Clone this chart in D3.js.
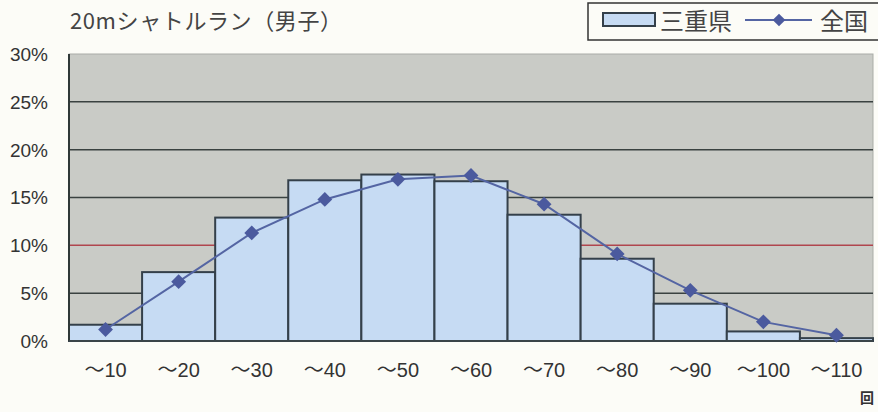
<!DOCTYPE html>
<html><head><meta charset="utf-8">
<script src="https://cdn.jsdelivr.net/npm/d3@7/dist/d3.min.js"></script>
<style>
html,body{margin:0;padding:0;background:#fcfcf7;}
svg{display:block;}
text{font-family:"Noto Sans CJK JP","Liberation Sans",Arial,sans-serif;}
</style></head>
<body>
<script>
const categories = ["～10","～20","～30","～40","～50","～60","～70","～80","～90","～100","～110"];
const mie = [1.7, 7.2, 12.9, 16.8, 17.4, 16.7, 13.2, 8.6, 3.9, 1.0, 0.3];
const national = [1.2, 6.2, 11.3, 14.8, 16.9, 17.3, 14.3, 9.1, 5.3, 2.0, 0.6];
const yTicks = [0, 5, 10, 15, 20, 25, 30];
const title = "20mシャトルラン（男子）";
const seriesNames = ["三重県", "全国"];
const unitLabel = "回";

const W = 878, H = 412;
const m = {left: 69, right: 5, top: 54, bottom: 71};
const svg = d3.select("body").append("svg").attr("width", W).attr("height", H);

const x = d3.scaleBand().domain(categories).range([m.left, W - m.right]).padding(0);
const y = d3.scaleLinear().domain([0, 30]).range([H - m.bottom, m.top]);

// plot background
svg.append("rect").attr("x", m.left).attr("y", m.top)
  .attr("width", W - m.right - m.left).attr("height", H - m.bottom - m.top)
  .attr("fill", "#c9cbc6").attr("stroke", "#a9aca7").attr("stroke-width", 1);

// gridlines
svg.append("g").selectAll("line").data(yTicks.filter(d => d > 0 && d < 30)).join("line")
  .attr("x1", m.left).attr("x2", W - m.right)
  .attr("y1", d => y(d)).attr("y2", d => y(d))
  .attr("stroke", d => d === 10 ? "#b0464e" : "#3a4240")
  .attr("stroke-width", 1.5);

// bars
svg.append("g").selectAll("rect").data(mie).join("rect")
  .attr("x", (d, i) => x(categories[i]))
  .attr("y", d => y(d))
  .attr("width", x.bandwidth())
  .attr("height", d => y(0) - y(d))
  .attr("fill", "#c6dbf3").attr("stroke", "#34404a").attr("stroke-width", 2);

// y axis line and baseline
svg.append("line").attr("x1", m.left).attr("x2", m.left).attr("y1", m.top).attr("y2", y(0))
  .attr("stroke", "#2f3838").attr("stroke-width", 2);
svg.append("line").attr("x1", m.left).attr("x2", W - m.right).attr("y1", y(0)).attr("y2", y(0))
  .attr("stroke", "#3a4448").attr("stroke-width", 2);

// national line
const line = d3.line().x((d, i) => x(categories[i]) + x.bandwidth() / 2).y(d => y(d));
svg.append("path").datum(national).attr("d", line)
  .attr("fill", "none").attr("stroke", "#5465a3").attr("stroke-width", 2);
svg.append("g").selectAll("path").data(national).join("path")
  .attr("d", d3.symbol().type(d3.symbolSquare).size(110))
  .attr("transform", (d, i) => `translate(${x(categories[i]) + x.bandwidth() / 2},${y(d)}) rotate(45)`)
  .attr("fill", "#4b5a9e");

// y axis labels
const yAxis = d3.axisLeft(y).tickValues(yTicks).tickFormat(d => d + "%").tickSize(0).tickPadding(21);
const ya = svg.append("g").attr("transform", `translate(${m.left},0)`).call(yAxis);
ya.select(".domain").remove();
ya.selectAll("text").attr("font-size", 19).attr("fill", "#333").attr("dy", "0.34em")
  .style("font-family", "'Liberation Sans', Arial, sans-serif");

// x axis labels (wave dash in CJK font, digits in sans)
const xAxis = d3.axisBottom(x).tickSize(0).tickPadding(22).tickFormat("");
const xa = svg.append("g").attr("transform", `translate(0,${y(0)})`).call(xAxis);
xa.select(".domain").remove();
xa.selectAll(".tick text").each(function(d) {
  const t = d3.select(this).attr("font-size", 20).attr("fill", "#333");
  t.append("tspan").style("font-family", "'Noto Sans CJK JP'").text(d.charAt(0));
  t.append("tspan").style("font-family", "'Liberation Sans', Arial, sans-serif").text(d.slice(1));
});

// unit label
svg.append("text").attr("x", 867).attr("y", 403).attr("text-anchor", "middle")
  .attr("font-size", 14).attr("font-weight", "bold").attr("fill", "#333").text(unitLabel);

// title
svg.append("text").attr("x", 70).attr("y", 29).attr("font-size", 22).attr("fill", "#444")
  .attr("letter-spacing", 0.6).text(title);

// legend
const lg = svg.append("g");
lg.append("rect").attr("x", 588).attr("y", 3).attr("width", 300).attr("height", 37)
  .attr("fill", "#fcfcf7").attr("stroke", "#333").attr("stroke-width", 1.5);
lg.append("rect").attr("x", 603).attr("y", 13).attr("width", 52).attr("height", 13)
  .attr("fill", "#c6dbf3").attr("stroke", "#34404a").attr("stroke-width", 2);
lg.append("text").attr("x", 660).attr("y", 30).attr("font-size", 24).attr("fill", "#444").text(seriesNames[0]);
lg.append("line").attr("x1", 745).attr("x2", 812).attr("y1", 20).attr("y2", 20)
  .attr("stroke", "#5465a3").attr("stroke-width", 2);
lg.append("path").attr("d", d3.symbol().type(d3.symbolSquare).size(80))
  .attr("transform", "translate(779,20) rotate(45)").attr("fill", "#4b5a9e");
lg.append("text").attr("x", 820).attr("y", 30).attr("font-size", 24).attr("fill", "#444").text(seriesNames[1]);
</script>
</body></html>
